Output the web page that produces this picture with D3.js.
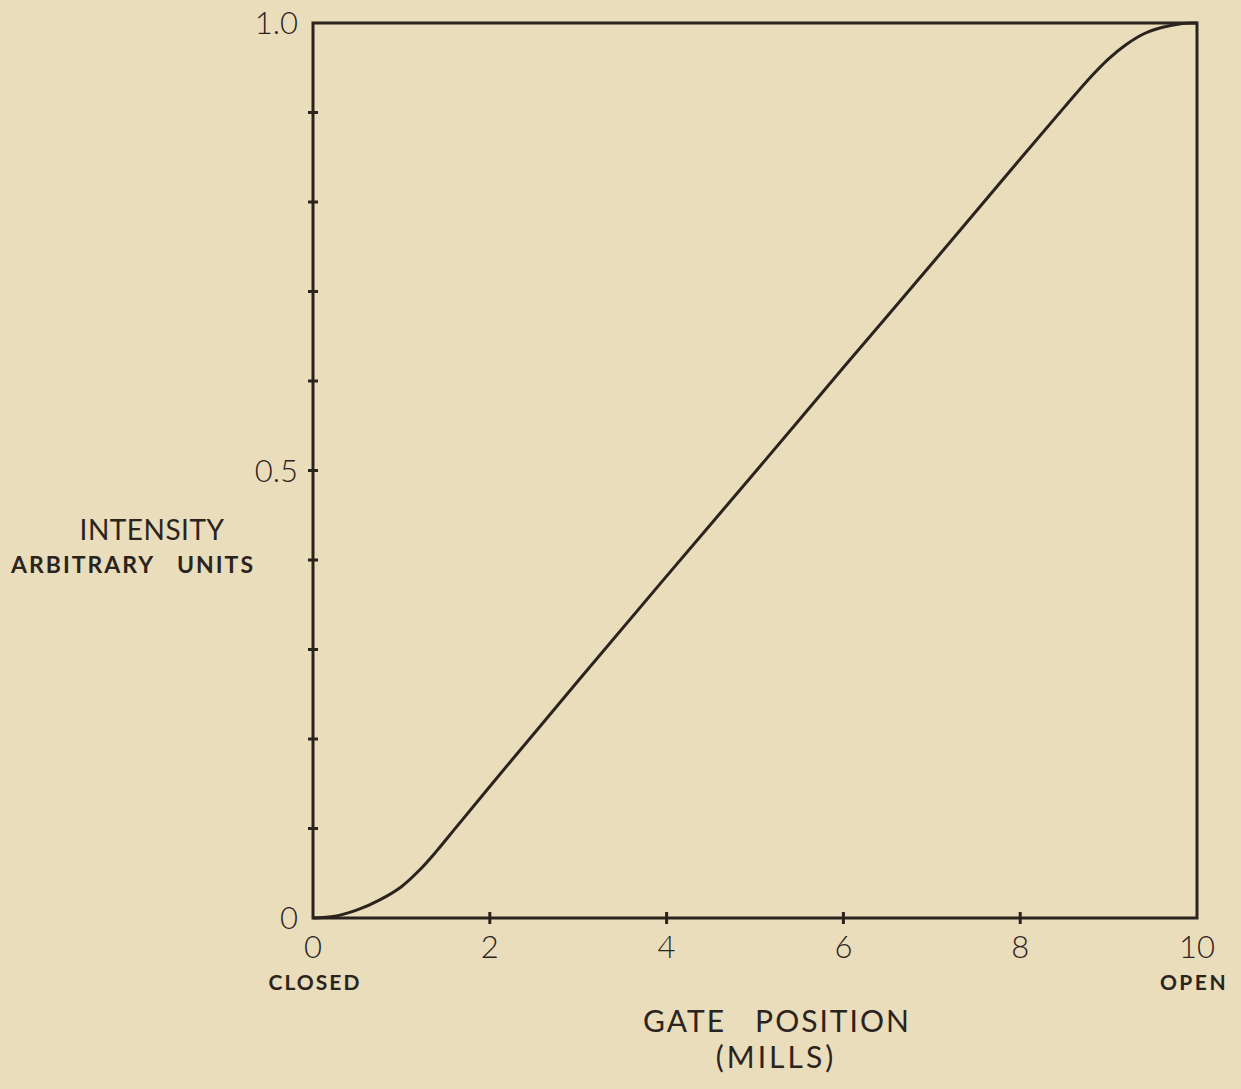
<!DOCTYPE html>
<html><head><meta charset="utf-8">
<script src="https://cdn.jsdelivr.net/npm/d3@7"></script>
<style>
html,body{margin:0;padding:0;background:#e9ddbb;}
svg{display:block;}
text{font-family:Lato,"Open Sans",sans-serif;fill:#2b231d;white-space:pre;}
</style></head>
<body>
<script>
const gatePosition = [0,0.25,0.5,0.75,1.0,1.2,1.4,1.6,2,3,4,5,6,7,8,8.5,8.8,9.0,9.2,9.4,9.6,9.8,10];
const intensity    = [0,0.002,0.009,0.020,0.035,0.053,0.075,0.099,0.147,0.265,0.382,0.498,0.615,0.731,0.848,0.906,0.940,0.960,0.976,0.988,0.995,0.999,1.0];
const xTickValues = [0,2,4,6,8,10];
const xTickLabels = ["0","2","4","6","8","10"];
const yTickValues = [0,0.1,0.2,0.3,0.4,0.5,0.6,0.7,0.8,0.9,1.0];
const yTickLabels = {0:"0",0.5:"0.5",1:"1.0"};
const xEndLabels = ["CLOSED","OPEN"];

const W=1241,H=1089;
const svg=d3.select("body").append("svg").attr("width",W).attr("height",H);
svg.append("rect").attr("width",W).attr("height",H).attr("fill","#e9ddbb");

const x=d3.scaleLinear().domain([0,10]).range([313,1197]);
const y=d3.scaleLinear().domain([0,1]).range([918,23]);
const ink="#2b231d";

// frame
svg.append("rect").attr("x",x(0)).attr("y",y(1)).attr("width",x(10)-x(0)).attr("height",y(0)-y(1))
  .attr("fill","none").attr("stroke",ink).attr("stroke-width",3);

// y ticks (crossing)
svg.selectAll(".yt").data(yTickValues.filter(v=>v>0&&v<1)).join("line")
  .attr("x1",x(0)-5).attr("x2",x(0)+5).attr("y1",d=>y(d)).attr("y2",d=>y(d))
  .attr("stroke",ink).attr("stroke-width",3);
// x ticks (crossing)
svg.selectAll(".xt").data(xTickValues.filter(v=>v>0&&v<10)).join("line")
  .attr("y1",y(0)-6).attr("y2",y(0)+6).attr("x1",d=>x(d)).attr("x2",d=>x(d))
  .attr("stroke",ink).attr("stroke-width",3);

// y tick labels
svg.selectAll(".yl").data(Object.keys(yTickLabels).map(Number)).join("text")
  .attr("x",x(0)-15).attr("y",d=>y(d)+11).attr("text-anchor","end")
  .attr("font-size",31).attr("font-weight",300).text(d=>yTickLabels[d]);

// x tick labels
svg.selectAll(".xl").data(xTickValues).join("text")
  .attr("x",d=>x(d)).attr("y",958).attr("text-anchor","middle")
  .attr("font-size",31).attr("font-weight",300).text((d,i)=>xTickLabels[i]);

svg.append("text").attr("x",x(0)+2).attr("y",990).attr("text-anchor","middle")
  .attr("font-size",21).attr("font-weight",700).attr("letter-spacing",2).text(xEndLabels[0]);
svg.append("text").attr("x",1194).attr("y",990).attr("text-anchor","middle")
  .attr("font-size",21).attr("font-weight",700).attr("letter-spacing",2.5).text(xEndLabels[1]);

// axis titles
svg.append("text").attr("x",777).attr("y",1032).attr("text-anchor","middle")
  .attr("font-size",30).attr("font-weight",400).attr("letter-spacing",2).text("GATE   POSITION");
svg.append("text").attr("x",776).attr("y",1068).attr("text-anchor","middle")
  .attr("font-size",30).attr("font-weight",400).attr("letter-spacing",3).text("(MILLS)");
svg.append("text").attr("x",152).attr("y",540).attr("text-anchor","middle")
  .attr("font-size",28).attr("font-weight",400).attr("letter-spacing",0.5).text("INTENSITY");
svg.append("text").attr("x",133).attr("y",573).attr("text-anchor","middle")
  .attr("font-size",23).attr("font-weight",700).attr("letter-spacing",2).text("ARBITRARY   UNITS");

// curve
const line=d3.line().x(d=>x(d[0])).y(d=>y(d[1])).curve(d3.curveCatmullRom.alpha(0.5));
svg.append("path").datum(gatePosition.map((g,i)=>[g,intensity[i]]))
  .attr("d",line).attr("fill","none").attr("stroke",ink).attr("stroke-width",3).attr("stroke-linejoin","round");
</script>
</body></html>
